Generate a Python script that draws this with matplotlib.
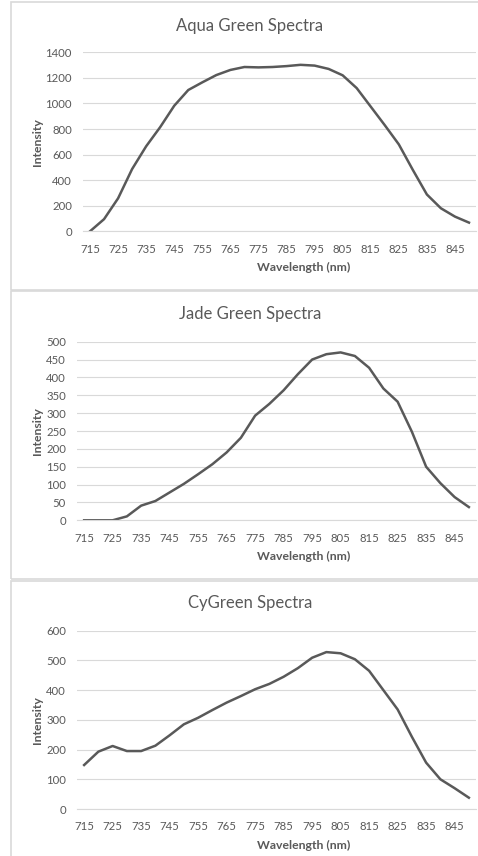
import matplotlib
matplotlib.use("Agg")
import matplotlib.pyplot as plt
from matplotlib.patches import Rectangle

plt.rcParams["font.family"] = ["Lato", "DejaVu Sans"]

wavelengths = list(range(715, 851, 5))

aqua_green = [0, 95, 258, 487, 665, 815, 982, 1105, 1165, 1222, 1262, 1285, 1282, 1285,
              1292, 1302, 1296, 1270, 1220, 1120, 975, 830, 680, 480, 288, 180, 115, 68]
jade_green = [0, 0, 0, 11, 41, 54, 78, 102, 129, 157, 190, 231, 293, 326,
              364, 409, 450, 465, 470, 460, 427, 369, 332, 248, 150, 104, 65, 37]
cygreen = [148, 193, 212, 195, 195, 213, 248, 285, 307, 333, 358, 380, 403, 421,
           445, 474, 509, 528, 524, 504, 465, 400, 335, 243, 156, 100, 70, 38]

titles = ["Aqua Green Spectra", "Jade Green Spectra", "CyGreen Spectra"]
series = [aqua_green, jade_green, cygreen]
y_max = [1400, 500, 600]
y_step = [200, 50, 100]

W, H = 478, 856
text_col = "#595959"
grid_col = "#d9d9d9"
line_col = "#595959"

# pixel layout of each panel: (panel top, panel bottom, plot left, plot top, plot bottom)
panels = [
    (2.5, 290, 83, 52.3, 231.3),
    (291.5, 579, 77, 341.7, 520.3),
    (581, 870, 77, 630.7, 809),
]
plot_right = 476

fig = plt.figure(figsize=(W / 100, H / 100), dpi=100)

def fx(px):
    return px / W

def fy(py):
    return 1 - py / H

for k, (ptop, pbot, left, top, bot) in enumerate(panels):
    # chart border
    fig.patches.append(Rectangle((fx(10.5), fy(pbot)), fx(500 - 10.5), (pbot - ptop) / H,
                                 transform=fig.transFigure, fill=False,
                                 edgecolor=grid_col, linewidth=1.2))
    ax = fig.add_axes([fx(left), fy(bot), fx(plot_right - left), (bot - top) / H])
    vals = series[k]
    n = len(vals)
    ax.plot(range(n), vals, color=line_col, linewidth=1.8, solid_joinstyle="round")
    ax.set_xlim(-0.5, n - 0.5)
    ax.set_ylim(0, y_max[k])
    ax.set_yticks(range(0, y_max[k] + 1, y_step[k]))
    ax.set_xticks(range(0, n, 2))
    ax.set_xticklabels([str(w) for w in wavelengths[::2]])
    ax.grid(axis="y", color=grid_col, linewidth=0.8)
    ax.set_axisbelow(True)
    for s in ["top", "right", "left"]:
        ax.spines[s].set_visible(False)
    ax.spines["bottom"].set_color(grid_col)
    ax.spines["bottom"].set_linewidth(0.8)
    ax.tick_params(length=0, labelsize=8.2, colors=text_col)
    ax.tick_params(axis="y", pad=8)
    ax.tick_params(axis="x", pad=9)

    title_y = [25.7, 314, 603][k]
    fig.text(fx(250), fy(title_y), titles[k], ha="center", va="center",
             fontsize=12, color=text_col)
    fig.text(fx(304), fy(bot + 36), "Wavelength (nm)", ha="center", va="center",
             fontsize=8.8, fontweight="bold", color=text_col)
    fig.text(fx(37), fy((top + bot) / 2), "Intensity", ha="center", va="center",
             rotation=90, fontsize=8.8, fontweight="bold", color=text_col)

fig.savefig("out.png", dpi=100, facecolor="white")
